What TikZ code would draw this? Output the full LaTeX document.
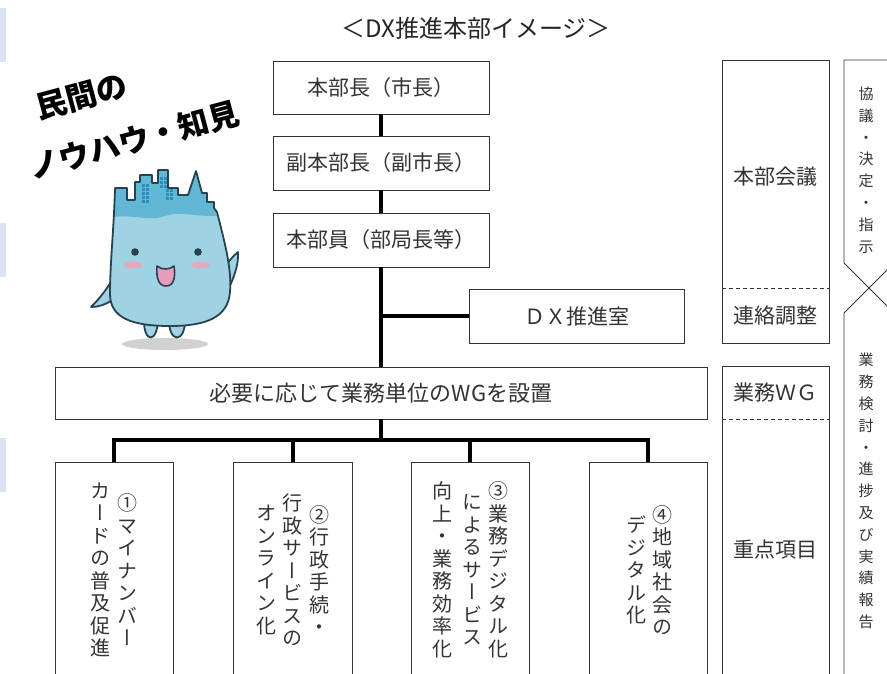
\documentclass[tikz,border=0pt]{standalone}
\usepackage{fontspec}
\setmainfont{Noto Sans CJK JP}
% same family with vertical glyph forms for the stacked columns
\newfontfamily\tatefont[RawFeature=+vert]{Noto Sans CJK JP}
\usetikzlibrary{positioning}

\definecolor{bodyblue}{HTML}{9FD2E2}
\definecolor{headblue}{HTML}{62B8D4}
\definecolor{mascotline}{HTML}{27434F}
\definecolor{cheekpink}{HTML}{E7A9B9}
\definecolor{mouthpink}{HTML}{E59DBB}
\definecolor{windowblue}{HTML}{2E8EC0}
\definecolor{tabblue}{HTML}{DAE3F3}

\tikzset{
    % boxes of the chart
    orgbox/.style={
           rectangle,
           draw=black!80, line width=0.8pt,
           fill=white,
           inner sep=0pt,
           text=black!80,
           font=\fontsize{21}{24}\selectfont},
    % plain text inside the right column
    boxtext/.style={
           inner sep=0pt,
           text=black!80,
           font=\fontsize{21}{24}\selectfont},
    % one character per line
    tate/.style={
           align=center,
           inner sep=0pt,
           text=black!80,
           font=\tatefont\fontsize{20}{22.5}\selectfont},
    sidetate/.style={
           tate,
           font=\tatefont\fontsize{15}{21.8}\selectfont},
    % handwritten caption
    scribble/.style={
           rotate=15,
           inner sep=0pt,
           font=\bfseries\fontsize{31}{33}\selectfont},
    % thick connecting lines
    trunk/.style={line width=4pt},
    thin/.style={draw=black!80, line width=0.8pt},
    mascotstroke/.style={draw=mascotline, line width=1.8pt, line join=round}
}

\begin{document}
\begin{tikzpicture}[x=1pt, y=-1pt]
 \useasboundingbox (0,0) rectangle (887,673);
 \clip (0,0) rectangle (887,673);

 % tabs on the left edge
 \fill[tabblue] (0,8) rectangle (6,62);
 \fill[tabblue] (0,223) rectangle (6,277);
 \fill[tabblue] (0,438) rectangle (6,492);

 \node[text=black!85, font=\fontsize{24}{26}\selectfont] (title) at (476,28) {＜DX推進本部イメージ＞};

 %nodes
 \node[orgbox, minimum width=216pt, minimum height=53pt] (chief) at (381,87.5) {本部長（市長）};
 \node[orgbox, minimum width=216pt, minimum height=54pt] (vicechief) at (381,163) {副本部長（副市長）};
 \node[orgbox, minimum width=216pt, minimum height=54pt] (members) at (381,240) {本部員（部局長等）};
 \node[orgbox, minimum width=215pt, minimum height=54pt] (dxoffice) at (576.5,316) {ＤＸ推進室};
 \node[orgbox, minimum width=652pt, minimum height=52pt, font=\fontsize{22}{24}\selectfont] (wgbox) at (381,393) {必要に応じて業務単位のWGを設置};

 % the four priority items run off the bottom
 \node[orgbox, minimum width=118pt, minimum height=240pt] (item1) at (114,582) {};
 \node[orgbox, minimum width=119pt, minimum height=240pt] (item2) at (292.5,582) {};
 \node[orgbox, minimum width=118pt, minimum height=240pt] (item3) at (470,582) {};
 \node[orgbox, minimum width=118pt, minimum height=240pt] (item4) at (648,582) {};

 \node[tate] at (127,570) {①\\マ\\イ\\ナ\\ン\\バ\\ー};
 \node[tate] at (100,570) {カ\\ー\\ド\\の\\普\\及\\促\\進};
 \node[tate] at (319,570) {②\\行\\政\\手\\続\\・};
 \node[tate] at (292,570) {行\\政\\サ\\ー\\ビ\\ス\\の};
 \node[tate] at (266,570) {オ\\ン\\ラ\\イ\\ン\\化};
 \node[tate] at (498,570) {③\\業\\務\\デ\\ジ\\タ\\ル\\化};
 \node[tate] at (472,570) {に\\よ\\る\\サ\\ー\\ビ\\ス};
 \node[tate] at (442,570) {向\\上\\・\\業\\務\\効\\率\\化};
 \node[tate] at (662,570) {④\\地\\域\\社\\会\\の};
 \node[tate] at (636,570) {デ\\ジ\\タ\\ル\\化};

 % edges
 \coordinate (bus) at (381,440);
 \draw[trunk] (chief) -- (vicechief);
 \draw[trunk] (vicechief) -- (members);
 \draw[trunk] (members) -- (wgbox);
 \draw[trunk] (dxoffice.west) -- (dxoffice.west -| members.south);
 \draw[trunk] (wgbox) -- (bus);
 \foreach \i in {1,...,4}
   \draw[trunk] (item\i.north) |- (bus);

 % right column
 \node[orgbox, minimum width=107pt, minimum height=283pt] (council) at (775.5,201.5) {};
 \draw[thin, dash pattern=on 4pt off 3pt] (council.west |- 0,288) -- (council.east |- 0,288);
 \node[boxtext] (councillabel) at (775.5,177) {本部会議};
 \node[boxtext] (liaison) at (775.5,316) {連絡調整};

 \node[orgbox, minimum width=107pt, minimum height=334pt] (workwg) at (775.5,533) {};
 \draw[thin, dash pattern=on 4pt off 3pt] (workwg.west |- 0,419) -- (workwg.east |- 0,419);
 \node[boxtext] (wglabel) at (775.5,393) {業務ＷＧ};
 \node[boxtext] (focus) at (775.5,550) {重点項目};

 % crossing arrows at the far right
 \draw[thin] (900,60) -- (844,60) -- (844,263) -- (900,319);
 \draw[thin] (900,257) -- (844,313) -- (844,690);
 \node[sidetate] (downflow) at (866,170) {協\\議\\・\\決\\定\\・\\指\\示};
 \node[sidetate] (upflow) at (866,491) {業\\務\\検\\討\\・\\進\\捗\\及\\び\\実\\績\\報\\告};

 % handwritten caption
 \node[scribble] (caption1) at (82,97) {民間の};
 \node[scribble] (caption2) at (134,140) {ノウハウ・知見};

 % mascot
 \fill[black!18] (165,344) ellipse (43 and 6);
 \draw[mascotstroke, fill=bodyblue] (144,318) .. controls (143,344) and (158,344) .. (158,318);
 \draw[mascotstroke, fill=bodyblue] (169,318) .. controls (168,344) and (186,344) .. (185,318);
 \draw[mascotstroke, fill=bodyblue] (221,272) .. controls (228,262) and (233,256) .. (238,252) .. controls (239,265) and (233,280) .. (227,292) -- cycle;
 \draw[mascotstroke, fill=bodyblue] (112,280) .. controls (105,292) and (98,300) .. (91,307) .. controls (98,307) and (104,305) .. (111,301) -- cycle;
 \path[save path=\mascotpath] (115,188) -- (127,188) -- (127,200) -- (135,200) -- (135,182) -- (140,182)
   -- (140,175) -- (152,175) -- (152,183) -- (158,183) -- (158,170) -- (168,170) -- (168,188)
   -- (178,188) -- (178,195) -- (188,195) -- (196,171) -- (202,193) -- (207,193) -- (207,202)
   -- (214,202) -- (214,208) -- (217,212) .. controls (224,240) and (232,268) .. (230,292)
   .. controls (228,318) and (205,326) .. (170,326) .. controls (132,326) and (110,318) .. (110,294)
   .. controls (110,262) and (114,228) .. (115,188) -- cycle;
 \begin{scope}
   \clip[use path=\mascotpath];
   \fill[bodyblue] (90,160) rectangle (250,330);
   \fill[headblue] (90,160) -- (90,221) .. controls (130,210) and (145,223) .. (165,216)
     .. controls (185,209) and (200,222) .. (250,212) -- (250,160) -- cycle;
 \end{scope}
 \foreach \x in {142,146} \foreach \y in {184,188,192,196,200} \fill[windowblue] (\x,\y) rectangle ++(2.6,2.6);
 \foreach \x in {160,164} \foreach \y in {177,181,185} \fill[windowblue] (\x,\y) rectangle ++(2.6,2.6);
 \foreach \x in {166,170} \foreach \y in {189,193,197} \fill[windowblue] (\x,\y) rectangle ++(2.6,2.6);
 \draw[mascotstroke, use path=\mascotpath];
 \fill[mascotline] (135,252) circle (3.8);
 \fill[mascotline] (198,252) circle (3.8);
 \fill[cheekpink] (133,265) ellipse (9 and 3.5);
 \fill[cheekpink] (201,265) ellipse (9 and 3.5);
 \draw[mascotstroke, line width=1.6pt, fill=mouthpink] (157,266) .. controls (162,270) and (169,270) .. (174,266)
   .. controls (176,279) and (173,286) .. (166,286) .. controls (159,286) and (156,279) .. (157,266) -- cycle;
\end{tikzpicture}
\end{document}
